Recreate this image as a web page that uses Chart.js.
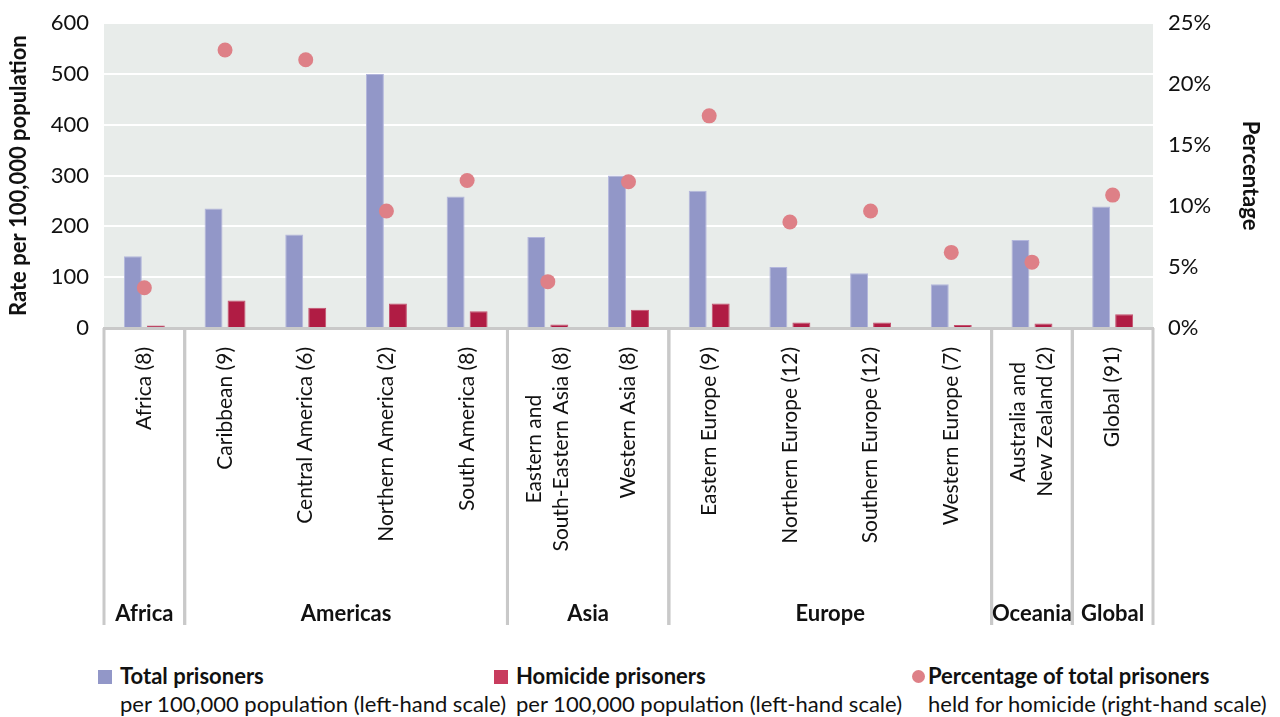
<!DOCTYPE html>
<html>
<head>
<meta charset="utf-8">
<script src="https://cdn.jsdelivr.net/npm/chart.js@4.4.0/dist/chart.umd.min.js"></script>
<style>
  body { margin: 0; background: #fff; font-family: Lato, sans-serif; }
  #wrap { position: relative; width: 1280px; height: 717px; overflow: hidden; }
  #chart { position: absolute; left: 0; top: 0; }
  .leg { position: absolute; top: 662px; font-size: 22px; line-height: 28px; color: #111; white-space: nowrap; }
  .leg b { font-weight: 700; }
  .mk { position: absolute; left: -22px; top: 8px; width: 14px; height: 14px; }
</style>
</head>
<body>
<div id="wrap">
  <canvas id="chart" width="1280" height="640"></canvas>
  <div class="leg" style="left:120px"><span class="mk" style="background:#9297c8"></span><b>Total prisoners</b><br>per 100,000 population (left-hand scale)</div>
  <div class="leg" style="left:516px"><span class="mk" style="background:#c83c5e"></span><b>Homicide prisoners</b><br>per 100,000 population (left-hand scale)</div>
  <div class="leg" style="left:928px"><span class="mk" style="background:#de8087;border-radius:50%;left:-16px;width:13px;height:13px"></span><b>Percentage of total prisoners</b><br>held for homicide (right-hand scale)</div>
</div>
<script>
const categories = [
  'Africa (8)', 'Caribbean (9)', 'Central America (6)', 'Northern America (2)', 'South America (8)',
  ['Eastern and', 'South-Eastern Asia (8)'], 'Western Asia (8)',
  'Eastern Europe (9)', 'Northern Europe (12)', 'Southern Europe (12)', 'Western Europe (7)',
  ['Australia and', 'New Zealand (2)'], 'Global (91)'
];
const regions = ['Africa', 'Americas', 'Americas', 'Americas', 'Americas', 'Asia', 'Asia',
  'Europe', 'Europe', 'Europe', 'Europe', 'Oceania', 'Global'];
const totalRate = [141, 235, 184, 500, 259, 179, 300, 270, 120, 108, 86, 173, 239];
const homicideRate = [5, 54, 40, 48, 33, 7, 36, 48, 11, 11, 6, 9, 27];
const homicidePct = [3.3, 22.8, 22.0, 9.6, 12.1, 3.8, 12.0, 17.4, 8.7, 9.6, 6.2, 5.4, 10.9];
const leftMax = 600, leftStep = 100;
const rightMax = 25, rightStep = 5;

const FONT = 'Lato, sans-serif';

const plotBg = {
  id: 'plotBg',
  beforeDraw(chart) {
    const { ctx, chartArea: a } = chart;
    ctx.save();
    ctx.fillStyle = '#e8ecea';
    ctx.fillRect(a.left, a.top, a.right - a.left, a.bottom - a.top);
    ctx.restore();
  }
};

// rotated category labels, region separators and region names under the x axis
const groupBoxes = {
  id: 'groupBoxes',
  afterDraw(chart) {
    const { ctx, chartArea: a, scales: { x } } = chart;
    const bottom = a.bottom + 297;
    const edge = i => i === 0 ? a.left : i === regions.length ? a.right
      : (x.getPixelForValue(i - 1) + x.getPixelForValue(i)) / 2;
    ctx.save();
    ctx.fillStyle = '#111';

    ctx.font = '21px ' + FONT;
    ctx.textBaseline = 'middle';
    ctx.textAlign = 'center';
    const lh = 27;
    categories.forEach((c, i) => {
      const lines = Array.isArray(c) ? c : [c];
      const w = Math.max(...lines.map(t => ctx.measureText(t).width));
      const px = x.getPixelForValue(i);
      lines.forEach((t, k) => {
        ctx.save();
        ctx.translate(px + (k - (lines.length - 1) / 2) * lh, a.bottom + 19 + w / 2);
        ctx.rotate(-Math.PI / 2);
        ctx.fillText(t, 0, 0);
        ctx.restore();
      });
    });

    ctx.strokeStyle = '#c9c9c9';
    ctx.lineWidth = 3;
    ctx.font = 'bold 22px ' + FONT;
    let start = 0;
    for (let i = 1; i <= regions.length; i++) {
      if (i === regions.length || regions[i] !== regions[start]) {
        const l = edge(start), r = edge(i);
        ctx.beginPath();
        ctx.moveTo(l, a.bottom); ctx.lineTo(l, bottom);
        ctx.moveTo(r, a.bottom); ctx.lineTo(r, bottom);
        ctx.stroke();
        ctx.fillText(regions[start], (l + r) / 2, a.bottom + 286);
        start = i;
      }
    }
    ctx.restore();
  }
};

new Chart(document.getElementById('chart'), {
  data: {
    labels: categories,
    datasets: [
      {
        type: 'line',
        label: 'Percentage of total prisoners held for homicide',
        data: homicidePct,
        yAxisID: 'y1',
        showLine: false,
        pointRadius: 7.5,
        pointBackgroundColor: '#de8087',
        pointBorderWidth: 0,
        order: 0
      },
      {
        type: 'bar',
        label: 'Total prisoners',
        data: totalRate,
        yAxisID: 'y',
        backgroundColor: '#9297c8',
        borderColor: '#b3b6dc',
        borderWidth: 1,
        categoryPercentage: 0.57,
        barPercentage: 0.78,
        order: 1
      },
      {
        type: 'bar',
        label: 'Homicide prisoners',
        data: homicideRate,
        yAxisID: 'y',
        backgroundColor: '#b01c44',
        borderColor: '#c4506e',
        borderWidth: 1,
        categoryPercentage: 0.57,
        barPercentage: 0.78,
        order: 1
      }
    ]
  },
  options: {
    responsive: false,
    animation: false,
    layout: { padding: { top: 0, left: 0, right: 0, bottom: 0 } },
    plugins: { legend: { display: false }, tooltip: { enabled: false } },
    scales: {
      x: {
        grid: { display: false },
        border: { display: true, color: '#c9c9c9', width: 3 },
        ticks: { display: false },
        afterFit(s) { s.height = 312; }
      },
      y: {
        position: 'left',
        min: 0, max: leftMax,
        grid: { color: '#ffffff', lineWidth: 2, drawTicks: true, tickLength: 5, tickColor: 'transparent' },
        border: { display: false },
        ticks: { stepSize: leftStep, color: '#111', padding: 10, font: { family: FONT, size: 22 } },
        title: {
          display: true, text: 'Rate per 100,000 population', color: '#111',
          font: { family: FONT, size: 22, weight: 'bold' }, padding: { top: 6, bottom: 0 }
        },
        afterFit(s) { s.width = 104; }
      },
      y1: {
        position: 'right',
        min: 0, max: rightMax,
        grid: { drawOnChartArea: false, color: 'transparent', tickLength: 5 },
        border: { display: false },
        ticks: { stepSize: rightStep, color: '#111', padding: 10, font: { family: FONT, size: 22 },
          callback: v => v + '%' },
        title: {
          display: true, text: 'Percentage', color: '#111',
          font: { family: FONT, size: 22, weight: 'bold' }, padding: { top: 17, bottom: 0 }
        },
        afterFit(s) { s.width = 127; }
      }
    }
  },
  plugins: [plotBg, groupBoxes]
});
</script>
</body>
</html>
